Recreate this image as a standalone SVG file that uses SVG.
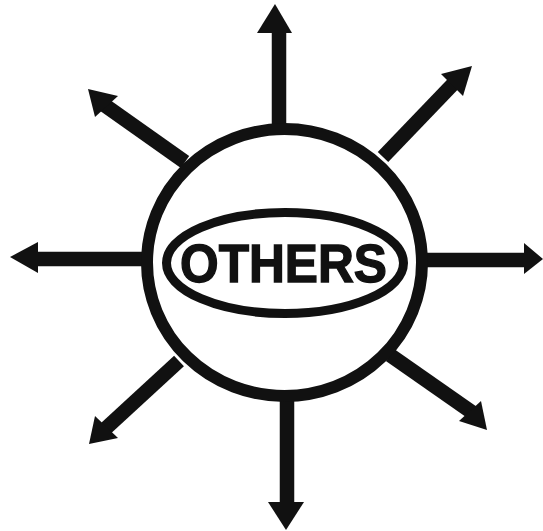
<svg xmlns="http://www.w3.org/2000/svg" width="543" height="531" viewBox="0 0 543 531">
<style>
.shaft{stroke:#111;stroke-width:14.5;fill:none}
.head{fill:#111}
.ring{fill:#fff;stroke:#111;stroke-width:12}
.oval{fill:#fff;stroke:#111;stroke-width:9}
.label{font-family:"Liberation Sans",Arial,sans-serif;font-weight:bold;font-size:54px;fill:#111;stroke:#111;stroke-width:1.4}
</style>
<rect width="543" height="531" fill="#fff"/>
<g id="connectors">
<g id="arrow-n"><line class="shaft" x1="279" y1="135" x2="279" y2="30"/><polygon class="head" points="275,4 257,33 292,33"/></g>
<g id="arrow-s"><line class="shaft" x1="287" y1="392" x2="287" y2="505"/><polygon class="head" points="286,530 268,502 304,502"/></g>
<g id="arrow-w"><line class="shaft" x1="148" y1="259" x2="35" y2="259"/><polygon class="head" points="10,257 38,242 38,273"/></g>
<g id="arrow-e"><line class="shaft" x1="422" y1="260" x2="527" y2="260"/><polygon class="head" points="543,259 524,243 524,274"/></g>
<g id="arrow-ne"><line class="shaft" x1="383" y1="157" x2="455" y2="82"/><polygon class="head" points="472,66 441,74 463,96"/></g>
<g id="arrow-nw"><line class="shaft" x1="185" y1="162" x2="103" y2="104"/><polygon class="head" points="88,89 118,96 95,117"/></g>
<g id="arrow-sw"><line class="shaft" x1="179" y1="361" x2="104" y2="430"/><polygon class="head" points="89,444 95,416 118,438"/></g>
<g id="arrow-se"><line class="shaft" x1="390" y1="355" x2="473" y2="413"/><polygon class="head" points="487,430 481,401 459,421"/></g>
</g>
<g id="node-circle"><ellipse class="ring" cx="284.5" cy="262.5" rx="137.5" ry="133.5"/></g>
<g id="node-others">
<ellipse class="oval" cx="285" cy="263" rx="118.5" ry="50.5"/>
<text class="label" x="180" y="282" textLength="207" lengthAdjust="spacingAndGlyphs">OTHERS</text>
</g>
</svg>
